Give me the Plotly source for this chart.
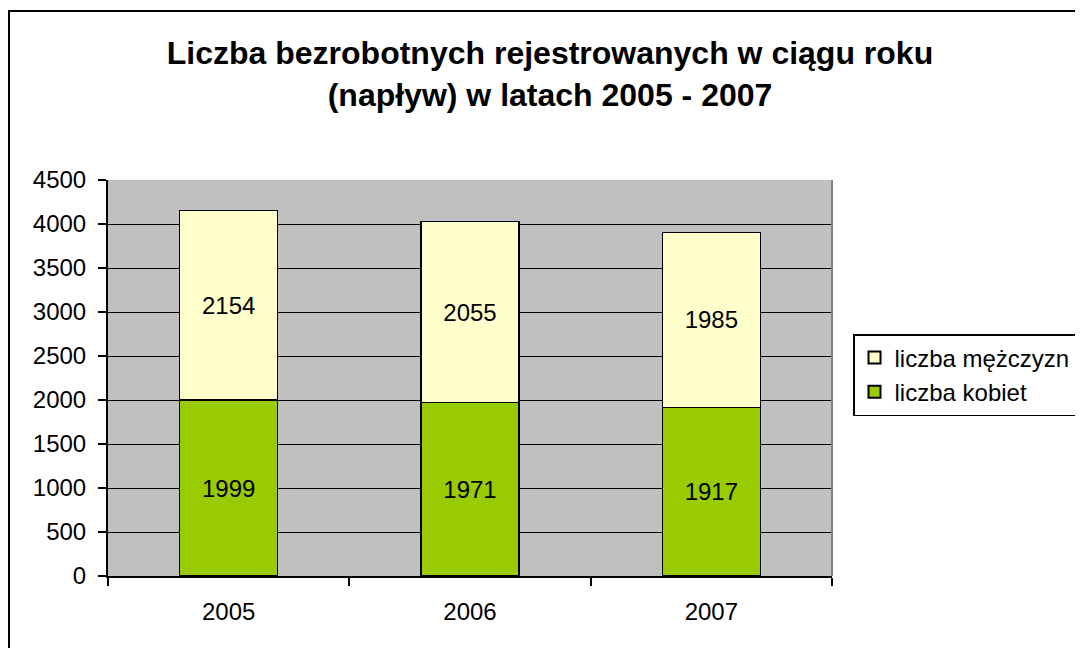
import plotly.graph_objects as go

years = ["2005", "2006", "2007"]
kobiety = [1999, 1971, 1917]
mezczyzni = [2154, 2055, 1985]
y_ticks = [0, 500, 1000, 1500, 2000, 2500, 3000, 3500, 4000, 4500]

FONT = "Liberation Sans, Arial, sans-serif"
OFF = 8  # page body margin
W, H = 1083 - OFF, 648 - OFF
L, R, T, B = 108 - OFF, 1083 - 832, 180 - OFF, 648 - 576
pw, ph = W - L - R, H - T - B


def px_x(p):
    # p: screen pixel x
    return (p - OFF - L) / pw


def px_y(p):
    # p: screen pixel y
    return (H - B - (p - OFF)) / ph


fig = go.Figure()
fig.add_trace(go.Bar(
    x=years, y=kobiety, name="liczba kobiet",
    marker=dict(color="#99CC00", line=dict(color="black", width=1.5)),
    text=[str(v) for v in kobiety], textposition="inside",
    insidetextanchor="middle", textangle=0,
    textfont=dict(family=FONT, size=24, color="black"),
))
fig.add_trace(go.Bar(
    x=years, y=mezczyzni, name="liczba mężczyzn",
    marker=dict(color="#FFFFCC", line=dict(color="black", width=1.5)),
    text=[str(v) for v in mezczyzni], textposition="inside",
    insidetextanchor="middle", textangle=0,
    textfont=dict(family=FONT, size=24, color="black"),
))

fig.update_layout(
    width=W, height=H,
    margin=dict(l=L, r=R, t=T, b=B, pad=0, autoexpand=False),
    barmode="stack", bargap=0.594,
    paper_bgcolor="white", plot_bgcolor="#C0C0C0",
    font=dict(family=FONT, size=24, color="black"),
    title=dict(
        text="<b>Liczba bezrobotnych rejestrowanych w ciągu roku<br>(napływ) w latach 2005 - 2007</b>",
        x=(550 - OFF) / W, xanchor="center", xref="container",
        y=1 - 56 / H, yanchor="top", yref="container",
        font=dict(family=FONT, size=32, color="black"),
    ),
    legend=dict(
        xref="container", yref="container",
        x=(853 - OFF) / W, xanchor="left",
        y=1 - (375 - OFF) / H, yanchor="middle",
        traceorder="reversed", bgcolor="white",
        bordercolor="black", borderwidth=1.5,
        font=dict(family=FONT, size=24, color="black"),
        itemsizing="constant",
    ),
    xaxis=dict(
        showline=True, linecolor="black", linewidth=2,
        ticks="outside", tickson="boundaries", ticklen=8, tickcolor="black",
        tickwidth=2, ticklabelstandoff=13,
        tickfont=dict(family=FONT, size=24, color="black"),
        showgrid=False,
    ),
    yaxis=dict(
        range=[0, 4500], tickvals=y_ticks,
        showline=True, linecolor="black", linewidth=2,
        ticks="outside", ticklen=8, tickcolor="black", tickwidth=1.5,
        ticklabelstandoff=7,
        showgrid=True, gridcolor="black", gridwidth=1,
        zeroline=False,
        tickfont=dict(family=FONT, size=24, color="black"),
    ),
    showlegend=True,
)

# right border of plot area (gray)
fig.add_shape(type="line", xref="paper", yref="paper",
              x0=1, x1=1, y0=0, y1=1, line=dict(color="#808080", width=2))
# outer chart border
fig.add_shape(type="rect", xref="paper", yref="paper",
              x0=px_x(9), x1=px_x(1100), y0=px_y(670), y1=px_y(11),
              line=dict(color="black", width=2), layer="above")

fig.write_html("out.html")
